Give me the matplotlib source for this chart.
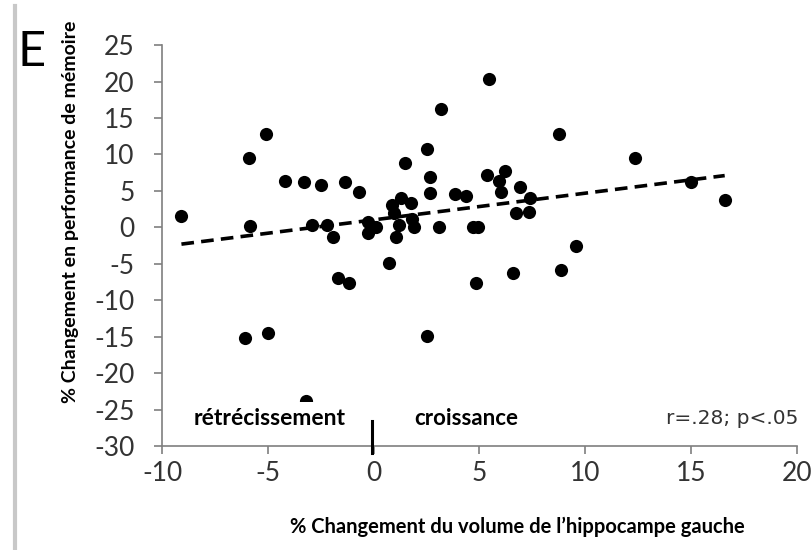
import numpy as np
import matplotlib
matplotlib.use("Agg")
import matplotlib.pyplot as plt

# % change in left hippocampus volume vs % change in memory performance
vol = [-9.1, -5.9, -5.1, -4.2, -3.3, -2.5, -1.35, -0.7, -5.85, -2.9,
       -2.2, -1.95, -0.27, -0.27, 0.1, -1.7, -1.15, -6.1, -5.0, -3.2,
       5.47, 3.2, 8.74, 2.5, 1.48, 2.64, 5.36, 6.2, 5.9, 6.93,
       6.0, 2.64, 3.82, 4.34, 7.37, 6.75, 7.33, 1.27, 1.75, 0.88,
       0.96, 1.82, 1.9, 1.2, 1.04, 3.1, 4.7, 4.95, 0.72, 4.83,
       6.59, 8.87, 9.58, 2.5, 12.36, 15.0, 16.6]
mem = [1.5, 9.5, 12.8, 6.4, 6.2, 5.8, 6.2, 4.8, 0.2, 0.3,
       0.3, -1.3, 0.8, -0.8, 0.1, -6.9, -7.6, -15.2, -14.5, -23.8,
       20.4, 16.2, 12.8, 10.8, 8.8, 6.9, 7.2, 7.7, 6.4, 5.6,
       4.8, 4.7, 4.6, 4.3, 4.0, 1.9, 2.05, 4.0, 3.3, 3.1,
       1.9, 1.2, 0.1, 0.3, -1.3, 0.1, 0.1, 0.1, -4.9, -7.6,
       -6.2, -5.9, -2.5, -14.9, 9.5, 6.2, 3.7]

trend_x = [-9.1, 16.6]
trend_y = [-2.3, 7.1]

xticks = [-10, -5, 0, 5, 10, 15, 20]
yticks = [25, 20, 15, 10, 5, 0, -5, -10, -15, -20, -25, -30]

plt.rcParams['font.family'] = ['Lato', 'DejaVu Sans']
plt.rcParams['axes.unicode_minus'] = False

fig = plt.figure(figsize=(8.12, 5.5), dpi=100)
ax = fig.add_axes([0.2, 0.189, 0.781, 0.729])

ax.scatter(vol, mem, s=90, color='black', zorder=3, linewidths=0)
ax.plot(trend_x, trend_y, color='black', lw=2.6, dashes=(3.5, 2), zorder=2)

ax.set_xlim(-10, 20)
ax.set_ylim(-30, 25)
ax.set_xticks(xticks)
ax.set_yticks(yticks)
ax.set_xticklabels([str(t) for t in xticks])
ax.set_yticklabels([str(t) for t in yticks])
for s in ['top', 'right']:
    ax.spines[s].set_visible(False)
for s in ['left', 'bottom']:
    ax.spines[s].set_color('#7f7f7f')
    ax.spines[s].set_linewidth(1.2)
ax.tick_params(direction='out', length=6, width=1.2, color='#7f7f7f',
               labelsize=19, labelcolor='#333333')
ax.tick_params(axis='y', pad=14)
ax.tick_params(axis='x', pad=5)

# 0 marker separating shrink / growth
ax.plot([-0.1, -0.1], [-26.5, -31], color='black', lw=2.2, clip_on=False, zorder=4)

ax.text(-8.5, -26.2, 'rétrécissement', fontsize=16.5, fontweight='bold',
        ha='left', va='center', zorder=5,
        bbox=dict(facecolor='white', edgecolor='none', pad=4))
ax.text(1.9, -26.2, 'croissance', fontsize=16, fontweight='bold',
        ha='left', va='center', zorder=5)
ax.text(20.1, -26.2, 'r=.28; p<.05', fontsize=14.5, color='#333333',
        family='DejaVu Sans', ha='right', va='center', zorder=5)

fig.text(0.637, 0.042, "% Changement du volume de l\u2019hippocampe gauche",
         fontsize=14.5, fontweight='bold', ha='center', va='center')
fig.text(0.087, 0.614, '% Changement en performance de mémoire',
         fontsize=14, fontweight='bold', rotation=90, ha='center', va='center')
fig.text(0.022, 0.905, 'E', fontsize=35, ha='left', va='center')

# grey bar at the left edge
fig.add_artist(plt.Line2D([0.018, 0.018], [0.0, 0.99], color='#c8c8c8', lw=3))

fig.savefig('out.png', dpi=100)
